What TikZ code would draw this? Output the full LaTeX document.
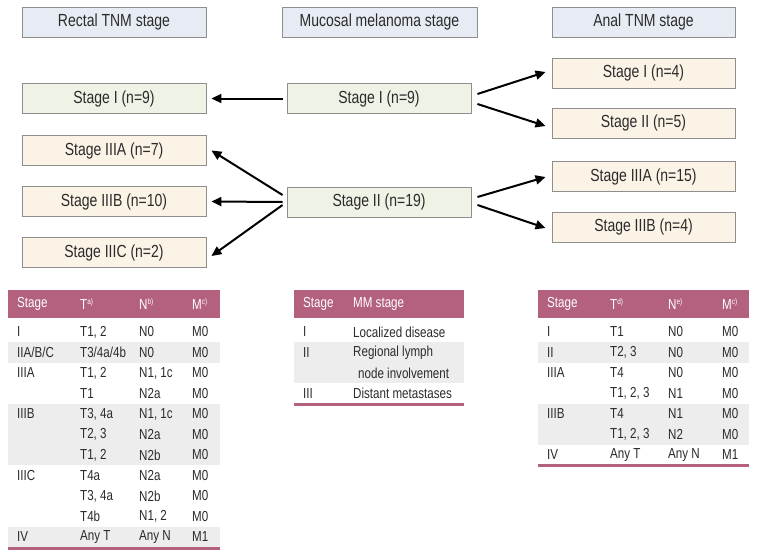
\documentclass[tikz,border=0pt]{standalone}
\usepackage{fontspec}
\setmainfont{Liberation Sans}[FakeStretch=0.8]
\usetikzlibrary{arrows.meta}
\definecolor{hdrfill}{HTML}{E7ECF4}
\definecolor{grnfill}{HTML}{EEF3E6}
\definecolor{pchfill}{HTML}{FCF3E7}
\definecolor{boxline}{HTML}{8E8E8E}
\definecolor{mauve}{HTML}{B3617F}
\definecolor{band}{HTML}{EDEDEE}
\definecolor{txt}{HTML}{2B2B2B}
\newcommand{\sps}[1]{\raisebox{0.6ex}{\fontsize{8}{8}\selectfont #1}}
\tikzset{
  basebox/.style={draw=boxline, line width=0.9pt, minimum height=30pt, inner sep=0pt, text=txt, font=\fontsize{17.5}{17.5}\selectfont},
  hdrbox/.style={basebox, fill=hdrfill},
  grnbox/.style={basebox, fill=grnfill, minimum width=184pt},
  pchbox/.style={basebox, fill=pchfill, minimum width=184pt},
  arr/.style={line width=2pt, -{Triangle[length=10pt,width=9pt]}},
  th/.style={anchor=west, inner sep=0pt, text=white, font=\fontsize{14.5}{14.5}\selectfont},
  td/.style={anchor=west, inner sep=0pt, text=txt, font=\fontsize{14.5}{14.5}\selectfont},
}
\begin{document}
\begin{tikzpicture}[x=1pt,y=-1pt]
\useasboundingbox[fill=white] (0,0) rectangle (760,554);
% headers
\node[hdrbox, minimum width=184pt] (hr) at (114,22) {Rectal TNM stage};
\node[hdrbox, minimum width=195pt] (hm) at (379.5,22) {Mucosal melanoma stage};
\node[hdrbox, minimum width=183pt] (ha) at (643.5,22) {Anal TNM stage};
% rectal
\node[grnbox] (r1) at (114,98.5) {Stage I (n=9)};
\node[pchbox] (r3a) at (114,150.5) {Stage IIIA (n=7)};
\node[pchbox] (r3b) at (114,201.5) {Stage IIIB (n=10)};
\node[pchbox] (r3c) at (114,252.5) {Stage IIIC (n=2)};
% mucosal
\node[grnbox] (m1) at (379,98.5) {Stage I (n=9)};
\node[grnbox] (m2) at (379,202) {Stage II (n=19)};
% anal
\node[pchbox, minimum width=183pt] (a1) at (643.5,73) {Stage I (n=4)};
\node[pchbox, minimum width=183pt] (a2) at (643.5,123) {Stage II (n=5)};
\node[pchbox, minimum width=183pt] (a3a) at (643.5,176.5) {Stage IIIA (n=15)};
\node[pchbox, minimum width=183pt] (a3b) at (643.5,227) {Stage IIIB (n=4)};
% arrows
\draw[arr] ([xshift=-4pt]m1.west) -- ([xshift=5pt]r1.east);
\draw[arr] ([shift={(-4,-7)}]m2.west) -- ([xshift=5pt]r3a.east);
\draw[arr] ([xshift=-4pt]m2.west) -- ([xshift=5pt]r3b.east);
\draw[arr] ([shift={(-4,3)}]m2.west) -- ([shift={(5,3.5)}]r3c.east);
\draw[arr] ([shift={(6,-4.5)}]m1.east) -- ([shift={(-6,-1)}]a1.west);
\draw[arr] ([shift={(6,5.5)}]m1.east) -- ([shift={(-6,3)}]a2.west);
\draw[arr] ([shift={(6,-5)}]m2.east) -- ([shift={(-6,0.5)}]a3a.west);
\draw[arr] ([shift={(6,3)}]m2.east) -- ([shift={(-6,1)}]a3b.west);

% ---------- rectal table ----------
\fill[mauve] (8,290) rectangle (220,318);
\fill[band] (8,342.25) rectangle (220,362.75);
\fill[band] (8,403.75) rectangle (220,465.25);
\fill[band] (8,526.75) rectangle (220,547.25);
\draw[mauve, line width=3pt] (8,548.5) -- (220,548.5);
\node[th] (rts) at (17,304) {Stage};
\node[th] (rtt) at (80,304) {T\sps{a)}};
\node[th] (rtn) at (139,304) {N\sps{b)}};
\node[th] (rtm) at (192,304) {M\sps{c)}};
\foreach \y/\s/\t/\n/\m [count=\i] in {
  332/I/{T1, 2}/N0/M0,
  352.5/IIA\slash B\slash C/T3\slash 4a\slash 4b/N0/M0,
  373/IIIA/{T1, 2}/{N1, 1c}/M0,
  393.5//T1/N2a/M0,
  414/IIIB/{T3, 4a}/{N1, 1c}/M0,
  434.5//{T2, 3}/N2a/M0,
  455//{T1, 2}/N2b/M0,
  475.5/IIIC/T4a/N2a/M0,
  496//{T3, 4a}/N2b/M0,
  516.5//T4b/{N1, 2}/M0,
  537/IV/Any T/Any N/M1}{
  \node[td] (rs\i) at (17,\y) {\s};
  \node[td] (rt\i) at (80,\y) {\t};
  \node[td] (rn\i) at (139,\y) {\n};
  \node[td] (rm\i) at (192,\y) {\m};
}

% ---------- mucosal table ----------
\fill[mauve] (294,290) rectangle (464,318);
\fill[band] (294,342.25) rectangle (464,383.25);
\draw[mauve, line width=3pt] (294,404.5) -- (464,404.5);
\node[th] (mts) at (303,304) {Stage};
\node[th] (mtm) at (353,304) {MM stage};
\node[td] (ms1) at (303,332) {I};
\node[td] (mm1) at (353,332) {Localized disease};
\node[td] (ms2) at (303,352.5) {II};
\node[td] (mm2) at (353,352.5) {Regional lymph};
\node[td] (mm2b) at (358,373) {node involvement};
\node[td] (ms3) at (303,393.5) {III};
\node[td] (mm3) at (353,393.5) {Distant metastases};

% ---------- anal table ----------
\fill[mauve] (538,290) rectangle (749,318);
\fill[band] (538,342.25) rectangle (749,362.75);
\fill[band] (538,403.75) rectangle (749,444.75);
\draw[mauve, line width=3pt] (538,465) -- (749,465);
\node[th] (ats) at (547,304) {Stage};
\node[th] (att) at (610,304) {T\sps{d)}};
\node[th] (atn) at (668,304) {N\sps{e)}};
\node[th] (atm) at (722,304) {M\sps{c)}};
\foreach \y/\s/\t/\n/\m [count=\i] in {
  332/I/T1/N0/M0,
  352.5/II/{T2, 3}/N0/M0,
  373/IIIA/T4/N0/M0,
  393.5//{T1, 2, 3}/N1/M0,
  414/IIIB/T4/N1/M0,
  434.5//{T1, 2, 3}/N2/M0,
  455/IV/Any T/Any N/M1}{
  \node[td] (as\i) at (547,\y) {\s};
  \node[td] (at\i) at (610,\y) {\t};
  \node[td] (an\i) at (668,\y) {\n};
  \node[td] (am\i) at (722,\y) {\m};
}
\end{tikzpicture}
\end{document}
